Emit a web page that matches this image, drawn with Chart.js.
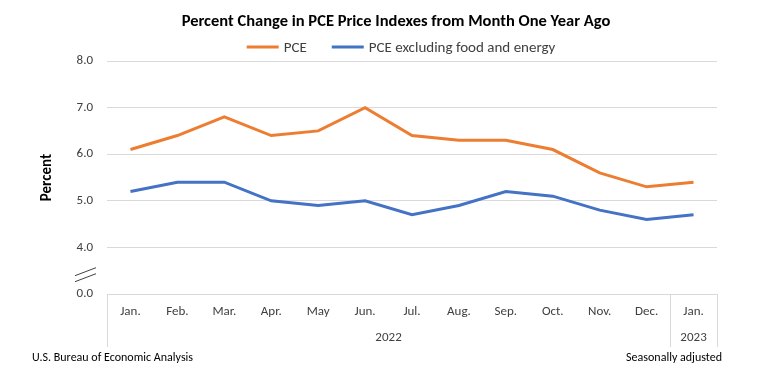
<!DOCTYPE html>
<html>
<head>
<meta charset="utf-8">
<title>PCE Price Indexes</title>
<script src="https://cdn.jsdelivr.net/npm/chart.js@4.4.1/dist/chart.umd.min.js"></script>
<style>
    html, body { margin: 0; padding: 0; background: #ffffff; }
    #wrap { width: 770px; height: 389px; position: relative; }
</style>
</head>
<body>
<div id="wrap"><canvas id="pceChart" width="770" height="389"></canvas></div>
<script>
// Chart data
const months = ['Jan.', 'Feb.', 'Mar.', 'Apr.', 'May', 'Jun.', 'Jul.', 'Aug.', 'Sep.', 'Oct.', 'Nov.', 'Dec.', 'Jan.'];
const years = [
    { label: '2022', from: 0, to: 11 },
    { label: '2023', from: 12, to: 12 }
];
const pceValues = [6.1, 6.4, 6.8, 6.4, 6.5, 7.0, 6.4, 6.3, 6.3, 6.1, 5.6, 5.3, 5.4];
const coreValues = [5.2, 5.4, 5.4, 5.0, 4.9, 5.0, 4.7, 4.9, 5.2, 5.1, 4.8, 4.6, 4.7];

// Y axis is broken: the bottom tick stands for 0.0
const yBreakValue = 3;
const yTickValues = [3, 4, 5, 6, 7, 8];
const yTickLabels = ['0.0', '4.0', '5.0', '6.0', '7.0', '8.0'];

const chartTitle = 'Percent Change in PCE Price Indexes from Month One Year Ago';

const FONT = 'Carlito, Calibri, Lato, sans-serif';
const GRID = '#d9d9d9';
const TEXT = '#404040';

document.addEventListener('DOMContentLoaded', function() {
    initPceChart();
});

// Title and legend drawn by hand so their placement can match the original
const headerPlugin = {
    id: 'header',
    afterDraw(chart) {
        const ctx = chart.ctx;
        const sets = chart.data.datasets;
        ctx.save();

        // title
        ctx.fillStyle = '#000000';
        ctx.font = 'bold 16.5px ' + FONT;
        ctx.textAlign = 'center';
        ctx.textBaseline = 'middle';
        ctx.fillText(chartTitle, 396, 22);

        // legend
        const lineLen = 32, textGap = 5, itemGap = 25;
        ctx.font = '15px ' + FONT;
        let total = 0;
        sets.forEach((ds, i) => {
            total += lineLen + textGap + ctx.measureText(ds.label).width;
            if (i < sets.length - 1) total += itemGap;
        });
        let px = 401 - total / 2;
        const py = 47;
        ctx.textAlign = 'left';
        sets.forEach(ds => {
            ctx.strokeStyle = ds.borderColor;
            ctx.lineWidth = 3;
            ctx.beginPath();
            ctx.moveTo(px, py);
            ctx.lineTo(px + lineLen, py);
            ctx.stroke();
            px += lineLen + textGap;
            ctx.fillStyle = TEXT;
            ctx.fillText(ds.label, px, py + 1);
            px += ctx.measureText(ds.label).width + itemGap;
        });
        ctx.restore();
    }
};

// Draws the boxed two-level category axis, the axis break and the footer
const extrasPlugin = {
    id: 'extras',
    afterDraw(chart) {
        const ctx = chart.ctx;
        const x = chart.scales.x;
        const y = chart.scales.y;
        const area = chart.chartArea;
        const half = (x.getPixelForValue(1) - x.getPixelForValue(0)) / 2;
        const boxBottom = area.bottom + 53;

        ctx.save();
        ctx.strokeStyle = GRID;
        ctx.lineWidth = 1;

        // vertical separators: left edge, between years, right edge
        const edges = [area.left];
        years.forEach(yr => edges.push(x.getPixelForValue(yr.to) + half));
        edges.forEach(px => {
            ctx.beginPath();
            ctx.moveTo(Math.round(px) + 0.5, area.bottom);
            ctx.lineTo(Math.round(px) + 0.5, boxBottom);
            ctx.stroke();
        });

        // year labels
        ctx.fillStyle = TEXT;
        ctx.font = '13px ' + FONT;
        ctx.textAlign = 'center';
        ctx.textBaseline = 'middle';
        years.forEach(yr => {
            const left = x.getPixelForValue(yr.from) - half;
            const right = x.getPixelForValue(yr.to) + half;
            ctx.fillText(yr.label, (left + right) / 2, area.bottom + 44);
        });

        // axis break marks
        const by = (y.getPixelForValue(yBreakValue) + y.getPixelForValue(4)) / 2 + 4;
        ctx.strokeStyle = '#404040';
        ctx.lineWidth = 1;
        [-3, 3].forEach(off => {
            ctx.beginPath();
            ctx.moveTo(75, by + off + 4);
            ctx.lineTo(96, by + off - 4);
            ctx.stroke();
        });

        // footer
        ctx.fillStyle = '#000000';
        ctx.font = '12px ' + FONT;
        ctx.textBaseline = 'middle';
        ctx.textAlign = 'left';
        ctx.fillText('U.S. Bureau of Economic Analysis', 32, 358);
        ctx.textAlign = 'right';
        ctx.fillText('Seasonally adjusted', 722, 358);
        ctx.restore();
    }
};

function initPceChart() {
    const ctx = document.getElementById('pceChart');
    if (!ctx) return;

    new Chart(ctx, {
        type: 'line',
        data: {
            labels: months,
            datasets: [
                {
                    label: 'PCE',
                    data: pceValues,
                    borderColor: '#ED7D31',
                    backgroundColor: '#ED7D31',
                    borderWidth: 3,
                    pointRadius: 0,
                    tension: 0
                },
                {
                    label: 'PCE excluding food and energy',
                    data: coreValues,
                    borderColor: '#4472C4',
                    backgroundColor: '#4472C4',
                    borderWidth: 3,
                    pointRadius: 0,
                    tension: 0
                }
            ]
        },
        options: {
            responsive: false,
            animation: false,
            layout: {
                padding: { left: 30, right: 53, top: 61, bottom: 35 }
            },
            plugins: {
                title: { display: false },
                legend: { display: false },
                tooltip: { enabled: false }
            },
            scales: {
                x: {
                    offset: true,
                    grid: { display: false, drawTicks: false },
                    border: { display: false },
                    ticks: {
                        color: TEXT,
                        font: { family: FONT, size: 13 },
                        padding: 10,
                        maxRotation: 0,
                        autoSkip: false
                    },
                    afterFit(scale) { scale.height = 60; }
                },
                y: {
                    min: yBreakValue,
                    max: 8,
                    afterBuildTicks(scale) {
                        scale.ticks = yTickValues.map(v => ({ value: v }));
                    },
                    grid: { color: GRID, drawTicks: false },
                    border: { display: false },
                    ticks: {
                        color: TEXT,
                        font: { family: FONT, size: 13 },
                        padding: 14,
                        callback: function(value) {
                            const i = yTickValues.indexOf(value);
                            return i >= 0 ? yTickLabels[i] : '';
                        }
                    },
                    title: {
                        display: true,
                        text: 'Percent',
                        color: '#000000',
                        font: { family: FONT, size: 15, weight: 'bold' },
                        padding: { top: 8, bottom: 0 }
                    },
                    afterFit(scale) { scale.width = 77; }
                }
            }
        },
        plugins: [extrasPlugin, headerPlugin]
    });
}
</script>
</body>
</html>
